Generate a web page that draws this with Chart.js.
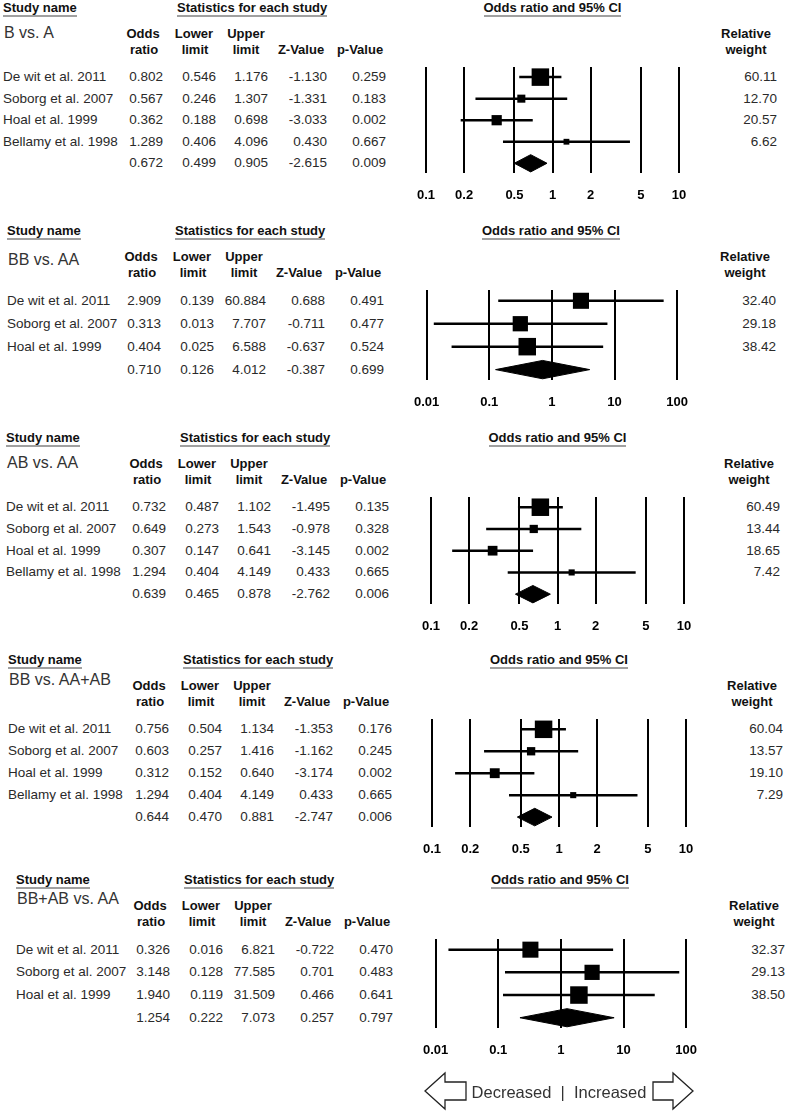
<!DOCTYPE html>
<html>
<head>
<meta charset="utf-8">
<title>Forest plots</title>
<script src="https://cdn.jsdelivr.net/npm/chart.js@4.4.1/dist/chart.umd.min.js"></script>
<style>
  body { margin: 0; background: #fff; }
  #page { position: relative; width: 787px; height: 1112px; overflow: hidden;
          font-family: Arial, "Liberation Sans", sans-serif; color: #2a2a2a; }
  .t { position: absolute; white-space: nowrap; line-height: 16px; font-size: 13.5px; }
  .h { font-weight: bold; font-size: 13px; color: #111; }
  .u { line-height: 14px; margin-top: 1px; border-bottom: 2px solid #a0a0a0; }
  .title { font-size: 16px; color: #333; }
  .legend { font-size: 16.5px; color: #333; }
  canvas { position: absolute; }
  svg { position: absolute; left: 0; top: 0; }
</style>
</head>
<body>
<div id="page"></div>
<script>
// Study names
const studies4 = ['De wit et al. 2011', 'Soborg et al. 2007', 'Hoal et al. 1999', 'Bellamy et al. 1998'];
const studies3 = ['De wit et al. 2011', 'Soborg et al. 2007', 'Hoal et al. 1999'];

// Axis ticks
const ticksNarrow = [0.1, 0.2, 0.5, 1, 2, 5, 10];
const ticksWide = [0.01, 0.1, 1, 10, 100];

// B vs. A (last value = pooled)
const bvaOR = [0.802, 0.567, 0.362, 1.289, 0.672];
const bvaLower = [0.546, 0.246, 0.188, 0.406, 0.499];
const bvaUpper = [1.176, 1.307, 0.698, 4.096, 0.905];
const bvaZ = [-1.130, -1.331, -3.033, 0.430, -2.615];
const bvaP = [0.259, 0.183, 0.002, 0.667, 0.009];
const bvaWeight = [60.11, 12.70, 20.57, 6.62];

// BB vs. AA
const bbOR = [2.909, 0.313, 0.404, 0.710];
const bbLower = [0.139, 0.013, 0.025, 0.126];
const bbUpper = [60.884, 7.707, 6.588, 4.012];
const bbZ = [0.688, -0.711, -0.637, -0.387];
const bbP = [0.491, 0.477, 0.524, 0.699];
const bbWeight = [32.40, 29.18, 38.42];

// AB vs. AA
const abOR = [0.732, 0.649, 0.307, 1.294, 0.639];
const abLower = [0.487, 0.273, 0.147, 0.404, 0.465];
const abUpper = [1.102, 1.543, 0.641, 4.149, 0.878];
const abZ = [-1.495, -0.978, -3.145, 0.433, -2.762];
const abP = [0.135, 0.328, 0.002, 0.665, 0.006];
const abWeight = [60.49, 13.44, 18.65, 7.42];

// BB vs. AA+AB (recessive)
const recOR = [0.756, 0.603, 0.312, 1.294, 0.644];
const recLower = [0.504, 0.257, 0.152, 0.404, 0.470];
const recUpper = [1.134, 1.416, 0.640, 4.149, 0.881];
const recZ = [-1.353, -1.162, -3.174, 0.433, -2.747];
const recP = [0.176, 0.245, 0.002, 0.665, 0.006];
const recWeight = [60.04, 13.57, 19.10, 7.29];

// BB+AB vs. AA (dominant)
const domOR = [0.326, 3.148, 1.940, 1.254];
const domLower = [0.016, 0.128, 0.119, 0.222];
const domUpper = [6.821, 77.585, 31.509, 7.073];
const domZ = [-0.722, 0.701, 0.466, 0.257];
const domP = [0.470, 0.483, 0.641, 0.797];
const domWeight = [32.37, 29.13, 38.50];

// Panel layout (positions only)
const panels = [
    { label: 'B vs. A', names: studies4, or: bvaOR, lo: bvaLower, hi: bvaUpper, z: bvaZ, p: bvaP, w: bvaWeight, ticks: ticksNarrow,
      top: 67, bottom: 173, titleDy: -34, nameX: 3, dx: 0, plotL: 426, plotR: 679, wRight: 777 },
    { label: 'BB vs. AA', names: studies3, or: bbOR, lo: bbLower, hi: bbUpper, z: bbZ, p: bbP, w: bbWeight, ticks: ticksWide,
      top: 290, bottom: 380, titleDy: -30, nameX: 7, dx: -2, plotL: 424, plotR: 678, wRight: 776 },
    { label: 'AB vs. AA', names: studies4, or: abOR, lo: abLower, hi: abUpper, z: abZ, p: abP, w: abWeight, ticks: ticksNarrow,
      top: 497, bottom: 604, titleDy: -34, nameX: 6, dx: 3, plotL: 431, plotR: 684, wRight: 780 },
    { label: 'BB vs. AA+AB', names: studies4, or: recOR, lo: recLower, hi: recUpper, z: recZ, p: recP, w: recWeight, ticks: ticksNarrow,
      top: 719, bottom: 827, titleDy: -39, nameX: 8, dx: 6, plotL: 432, plotR: 686, wRight: 783 },
    { label: 'BB+AB vs. AA', names: studies3, or: domOR, lo: domLower, hi: domUpper, z: domZ, p: domP, w: domWeight, ticks: ticksWide,
      top: 939, bottom: 1028, titleDy: -40, nameX: 16, dx: 7, plotL: 433, plotR: 687, wRight: 785 }
];

const colRight = [163, 216, 268, 327, 386];

function put(parent, text, x, y, align, cls) {
    const el = document.createElement('div');
    el.className = 't ' + (cls || '');
    el.textContent = text;
    el.style.left = x + 'px';
    el.style.top = (y - 8) + 'px';
    if (align === 'right') el.style.transform = 'translateX(-100%)';
    if (align === 'center') el.style.transform = 'translateX(-50%)';
    parent.appendChild(el);
    return el;
}

function buildConfig(cfg, padX) {
    const n = cfg.or.length;
    const wMax = Math.max(...cfg.w);
    const datasets = [];

    // Squares for each study
    datasets.push({
        data: cfg.names.map((s, i) => ({ x: cfg.or[i], y: i })),
        pointStyle: 'rect',
        pointRadius: cfg.w.map(w => 17.5 * Math.sqrt(w / wMax) / 1.414),
        backgroundColor: '#000',
        borderWidth: 0,
        clip: false
    });

    // Confidence interval lines
    cfg.names.forEach((s, i) => {
        datasets.push({
            data: [{ x: cfg.lo[i], y: i }, { x: cfg.hi[i], y: i }],
            showLine: true,
            borderColor: '#000',
            borderWidth: 2.5,
            pointRadius: 0
        });
    });

    // Pooled diamond
    const d = n - 1, h = 0.4;
    datasets.push({
        data: [
            { x: cfg.lo[d], y: d }, { x: cfg.or[d], y: d - h },
            { x: cfg.hi[d], y: d }, { x: cfg.or[d], y: d + h },
            { x: cfg.lo[d], y: d }
        ],
        showLine: true,
        fill: 'shape',
        tension: 0,
        backgroundColor: '#000',
        borderColor: '#000',
        borderWidth: 1,
        pointRadius: 0
    });

    return {
        type: 'scatter',
        data: { datasets: datasets },
        options: {
            responsive: false,
            animation: false,
            events: [],
            layout: { autoPadding: false, padding: { left: padX, right: padX, top: 0, bottom: 0 } },
            plugins: { legend: { display: false }, tooltip: { enabled: false } },
            scales: {
                x: {
                    type: 'logarithmic',
                    min: cfg.ticks[0],
                    max: cfg.ticks[cfg.ticks.length - 1],
                    afterBuildTicks: scale => {
                        scale.ticks = cfg.ticks.map(v => ({ value: v }));
                    },
                    grid: { color: '#000', lineWidth: 2, drawTicks: false },
                    border: { display: false },
                    ticks: {
                        padding: 14,
                        color: '#000',
                        autoSkip: false,
                        maxRotation: 0,
                        font: { size: 13, weight: 'bold', family: 'Arial, "Liberation Sans", sans-serif' },
                        callback: v => String(v)
                    }
                },
                y: {
                    type: 'linear',
                    display: false,
                    reverse: true,
                    min: -0.47,
                    max: n - 1 + 0.47
                }
            }
        }
    };
}

function drawPanel(page, cfg) {
    const n = cfg.or.length;
    const k = cfg.names.length;
    const cols = colRight.map(c => c + cfg.dx);
    const plotMid = (cfg.plotL + cfg.plotR) / 2;

    // Headers
    put(page, 'Study name', cfg.nameX, cfg.top - 59, 'left', 'h u');
    put(page, 'Statistics for each study', 177 + cfg.dx, cfg.top - 59, 'left', 'h u');
    put(page, 'Odds ratio and 95% CI', plotMid, cfg.top - 59, 'center', 'h u');
    put(page, cfg.label, cfg.nameX + 1, cfg.top + cfg.titleDy, 'left', 'title');

    const y1 = cfg.top - 33, y2 = cfg.top - 17;
    put(page, 'Odds', cols[0] - 20, y1, 'center', 'h');
    put(page, 'ratio', cols[0] - 19, y2, 'center', 'h');
    put(page, 'Lower', cols[1] - 22, y1, 'center', 'h');
    put(page, 'limit', cols[1] - 21, y2, 'center', 'h');
    put(page, 'Upper', cols[2] - 22, y1, 'center', 'h');
    put(page, 'limit', cols[2] - 22, y2, 'center', 'h');
    put(page, 'Z-Value', cols[3] - 26, y2, 'center', 'h');
    put(page, 'p-Value', cols[4] - 26, y2, 'center', 'h');
    put(page, 'Relative', cfg.wRight - 31, y1, 'center', 'h');
    put(page, 'weight', cfg.wRight - 31, y2, 'center', 'h');

    // Chart canvas over the plot area
    const padX = 24;
    const span = cfg.bottom - cfg.top;
    const canvas = document.createElement('canvas');
    canvas.width = cfg.plotR - cfg.plotL + 2 * padX;
    canvas.height = span + 40;
    canvas.style.left = (cfg.plotL - padX) + 'px';
    canvas.style.top = cfg.top + 'px';
    page.appendChild(canvas);

    let chart = new Chart(canvas, buildConfig(cfg, padX));

    // Fit the canvas so the plot area covers exactly the wanted span
    const axisH = canvas.height - chart.chartArea.bottom;
    const wanted = Math.round(span + axisH);
    if (wanted !== canvas.height) {
        chart.destroy();
        canvas.width = cfg.plotR - cfg.plotL + 2 * padX;
        canvas.height = wanted;
        canvas.style.width = canvas.width + 'px';
        canvas.style.height = wanted + 'px';
        chart = new Chart(canvas, buildConfig(cfg, padX));
    }

    // Table rows, aligned with the chart's y scale
    const yScale = chart.scales.y;
    for (let i = 0; i < n; i++) {
        const y = cfg.top + yScale.getPixelForValue(i);
        if (i < k) put(page, cfg.names[i], cfg.nameX, y, 'left');
        put(page, cfg.or[i].toFixed(3), cols[0], y, 'right');
        put(page, cfg.lo[i].toFixed(3), cols[1], y, 'right');
        put(page, cfg.hi[i].toFixed(3), cols[2], y, 'right');
        put(page, cfg.z[i].toFixed(3), cols[3], y, 'right');
        put(page, cfg.p[i].toFixed(3), cols[4], y, 'right');
        if (i < k) put(page, cfg.w[i].toFixed(2), cfg.wRight, y, 'right');
    }
}

document.addEventListener('DOMContentLoaded', function() {
    const page = document.getElementById('page');

    panels.forEach(cfg => drawPanel(page, cfg));

    // Direction arrows at the bottom
    const svgNS = 'http://www.w3.org/2000/svg';
    const svg = document.createElementNS(svgNS, 'svg');
    svg.setAttribute('width', 787);
    svg.setAttribute('height', 1112);
    const arrows = [
        'M425,1091 L445,1073 L445,1082 L466,1082 L466,1100 L445,1100 L445,1109 Z',
        'M693,1091 L673,1073 L673,1082 L653,1082 L653,1100 L673,1100 L673,1109 Z'
    ];
    arrows.forEach(dPath => {
        const path = document.createElementNS(svgNS, 'path');
        path.setAttribute('d', dPath);
        path.setAttribute('fill', '#fff');
        path.setAttribute('stroke', '#222');
        path.setAttribute('stroke-width', '1.3');
        svg.appendChild(path);
    });
    page.appendChild(svg);

    put(page, 'Decreased  |  Increased', 559, 1092, 'center', 'legend').style.whiteSpace = 'pre';
});
</script>
</body>
</html>
